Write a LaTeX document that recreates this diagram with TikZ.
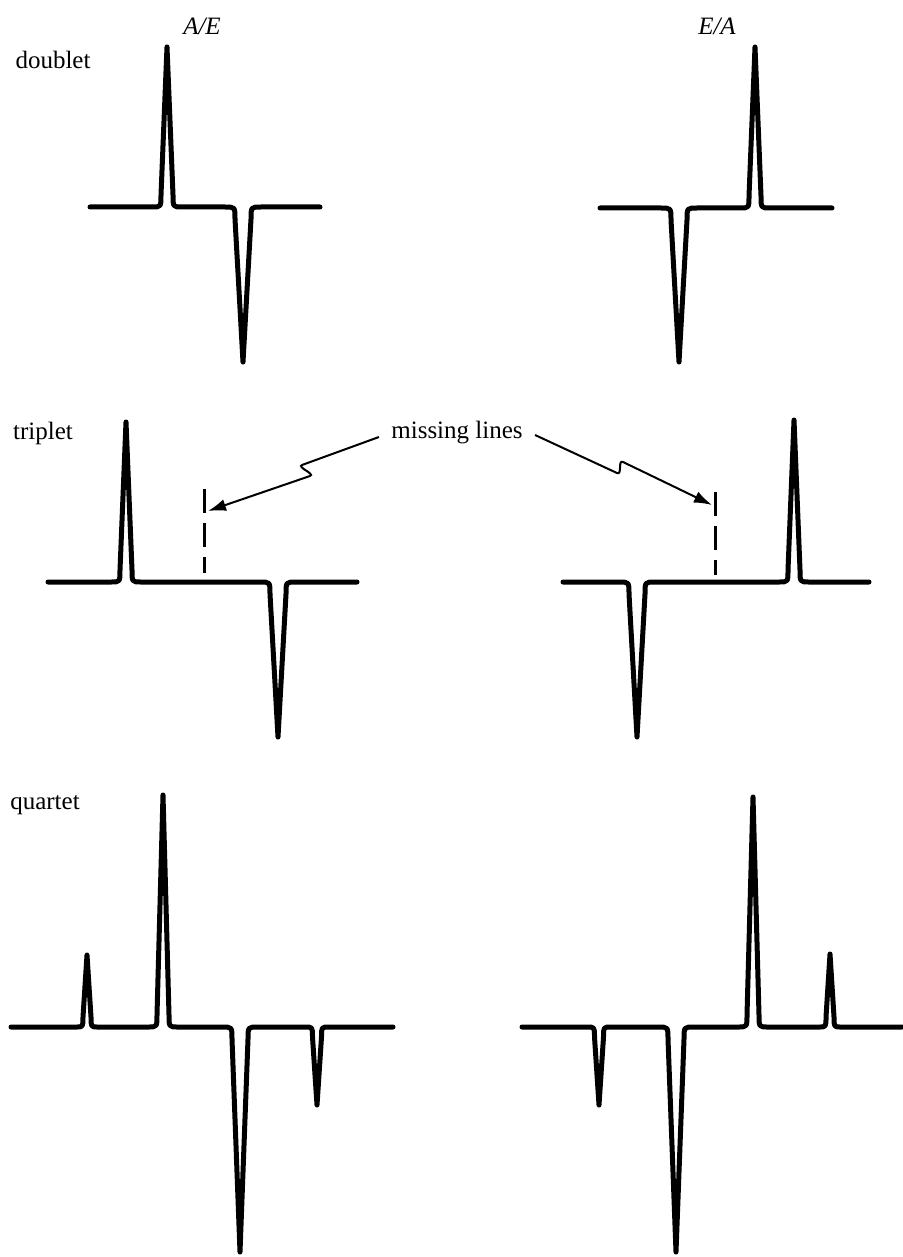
\documentclass[tikz,border=0pt]{standalone}
\usepackage{fontspec}
\setmainfont{Liberation Serif}
\usetikzlibrary{arrows.meta}
% peak: centre, baseline, shoulder y, tip y, corner half-width, side half-width
\newcommand\pk[6]{-- ({#1-#5},#2) .. controls ({#1-#6},#2) and ({#1-#6},#2) .. ({#1-#6},#3) -- (#1,#4) -- ({#1+#6},#3) .. controls ({#1+#6},#2) and ({#1+#6},#2) .. ({#1+#5},#2)}
\begin{document}
\begin{tikzpicture}[x=0.5pt,y=-0.5pt,
  trace/.style={line width=2.5pt, line join=round, line cap=round},
  dashln/.style={line width=1.5pt, dash pattern=on 12pt off 5pt},
  ptr/.style={line width=1pt, -{Latex[length=9pt,width=6pt]}},
  lbl/.style={font=\fontsize{12.5}{14}\selectfont, inner sep=0pt},
  ilbl/.style={font=\fontsize{12.5}{14}\selectfont\itshape, inner sep=0pt}]
\useasboundingbox (0,0) rectangle (903,1257);

% labels
\node[ilbl] (ae) at (202,26) {A/E};
\node[ilbl] (ea) at (717,26) {E/A};
\node[lbl] (dbl) at (53,60) {doublet};
\node[lbl] (tri) at (43,433) {triplet};
\node[lbl] (qua) at (45,805) {quartet};
\node[lbl] (ml) at (457,433) {missing lines};

% doublets
\draw[trace] (90,207) \pk{167}{207}{195}{47}{15}{6} \pk{243}{207}{219}{362}{18}{8} -- (320,207);
\draw[trace] (600,208) \pk{679}{208}{220}{362}{18}{8} \pk{755}{208}{196}{47}{15}{6} -- (832,208);

% triplets
\draw[trace] (48,582) \pk{126}{582}{570}{422}{15}{6} \pk{278}{582}{594}{737}{18}{8} -- (357,582);
\draw[trace] (563,582) \pk{637}{582}{594}{737}{18}{8} \pk{794}{582}{570}{420}{15}{6} -- (869,582);

% quartets
\draw[trace] (11,1027) \pk{87}{1027}{1017}{955}{11}{4} \pk{163}{1027}{1015}{795}{15}{6} \pk{240}{1027}{1039}{1252}{18}{8} \pk{317}{1027}{1037}{1105}{12}{4.5} -- (393,1027);
\draw[trace] (522,1027) \pk{599}{1027}{1037}{1105}{12}{4.5} \pk{676}{1027}{1039}{1252}{18}{8} \pk{753}{1027}{1015}{797}{15}{6} \pk{830}{1027}{1017}{954}{11}{4} -- (902,1027);

% missing lines (dashed)
\coordinate (dLa) at (204,489);
\coordinate (dLb) at (204,573);
\coordinate (dRa) at (715,492);
\coordinate (dRb) at (715,575);
\draw[dashln] (dLa) -- (dLb);
\draw[dashln] (dRa) -- (dRb);

% arrows with break
\coordinate (jL1) at (302,465);
\coordinate (jL2) at (310,476);
\coordinate (tipL) at (208,511);
\coordinate (jR1) at (617,473);
\coordinate (jR2) at (623,462);
\coordinate (tipR) at (712,505);
\draw[ptr] ([shift={(-12,4)}]ml.west) -- (jL1) .. controls +(-5.6,2) and +(5.6,-2) .. (jL2) -- (tipL);
\draw[ptr] ([shift={(12,2)}]ml.east) -- (jR1) .. controls +(5.5,2.5) and +(-5.5,-2.5) .. (jR2) -- (tipR);
\end{tikzpicture}
\end{document}
